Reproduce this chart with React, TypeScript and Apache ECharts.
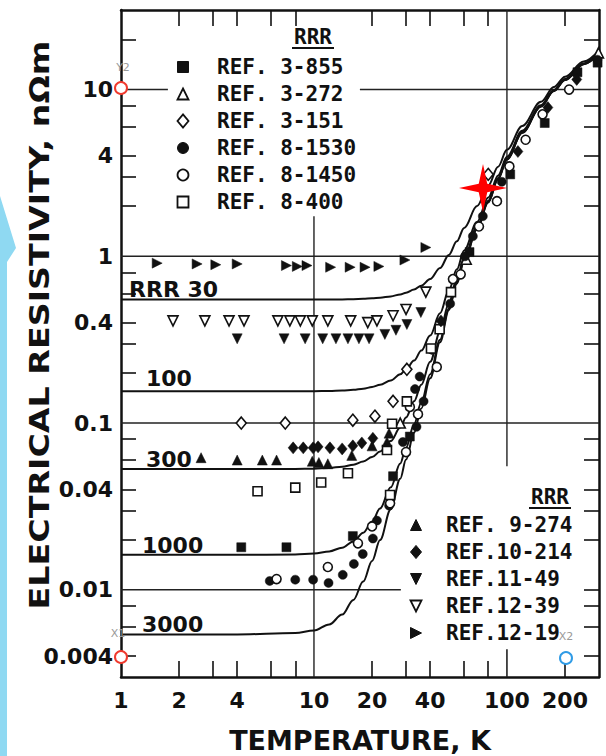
import React, { useEffect, useRef } from 'react';
import * as echarts from 'echarts';

// Axis ticks and labels (log-log scales)
const X_LABELS = [1, 2, 4, 10, 20, 40, 100, 200];
const X_MINOR_TICKS = [2, 3, 4, 6, 8, 20, 30, 40, 60, 80, 200];
const Y_LABELS = [0.004, 0.01, 0.04, 0.1, 0.4, 1, 4, 10];
const Y_MINOR_TICKS = [0.004, 0.006, 0.008, 0.02, 0.03, 0.04, 0.06, 0.08, 0.2, 0.3, 0.4, 0.6, 0.8, 2, 3, 4, 6, 8, 20];
const Y_RIGHT_TICKS = [0.004, 0.006, 0.008, 0.01, 0.02, 0.03, 0.04, 0.06, 0.08, 0.2, 0.3, 0.4, 0.6, 0.8, 2, 3, 4, 6, 8, 20];

// Temperature grid (K) of the RRR curves
const T_GRID = [1, 4, 8, 10, 12, 14, 16, 18, 20, 22, 25, 28, 30, 33, 36, 40, 45, 50, 55, 60, 70, 80, 90, 100, 120, 150, 175, 200, 250, 300];
// Resistivity (nΩm) of each RRR curve on T_GRID
const RHO_RRR30 = [0.55, 0.55, 0.55, 0.5503, 0.5508, 0.5517, 0.5533, 0.5558, 0.5595, 0.5645, 0.575, 0.591, 0.605, 0.632, 0.667, 0.73, 0.85, 1.02, 1.23, 1.48, 2.0, 2.65, 3.45, 4.35, 6.05, 8.45, 10.35, 11.95, 14.75, 17.15];
const RHO_RRR100 = [0.155, 0.155, 0.155, 0.1553, 0.1558, 0.1567, 0.1583, 0.1608, 0.1645, 0.1695, 0.18, 0.196, 0.21, 0.237, 0.272, 0.335, 0.455, 0.625, 0.835, 1.085, 1.605, 2.255, 3.055, 3.955, 5.655, 8.055, 9.955, 11.555, 14.355, 16.755];
const RHO_RRR300 = [0.053, 0.053, 0.0531, 0.0533, 0.0538, 0.0547, 0.0563, 0.0588, 0.0625, 0.0675, 0.078, 0.094, 0.108, 0.135, 0.17, 0.233, 0.353, 0.523, 0.733, 0.983, 1.503, 2.153, 2.953, 3.853, 5.553, 7.953, 9.853, 11.453, 14.253, 16.653];
const RHO_RRR1000 = [0.0162, 0.0162, 0.0163, 0.0165, 0.017, 0.0179, 0.0195, 0.022, 0.0257, 0.0307, 0.0412, 0.0572, 0.0712, 0.0982, 0.1332, 0.1962, 0.3162, 0.4862, 0.6962, 0.9462, 1.466, 2.116, 2.916, 3.816, 5.516, 7.916, 9.816, 11.416, 14.216, 16.616];
const RHO_RRR3000 = [0.0054, 0.0054, 0.0055, 0.0057, 0.0062, 0.0071, 0.0087, 0.0112, 0.0149, 0.0199, 0.0304, 0.0464, 0.0604, 0.0874, 0.1224, 0.1854, 0.3054, 0.4754, 0.6854, 0.9354, 1.455, 2.105, 2.905, 3.805, 5.505, 7.905, 9.805, 11.405, 14.205, 16.605];

// Measured points [T (K), resistivity (nΩm)]
const REF_3_855 = [[4.2, 0.018], [7.2, 0.018], [15.9, 0.021], [25.7, 0.048], [31.4, 0.083], [64, 1.06], [104, 3.1], [157, 6.3], [232, 12.7], [295, 14.5]];
const REF_3_272 = [[28, 0.1], [61.5, 0.96], [298, 16.6]];
const REF_3_151 = [[4.2, 0.1], [7.1, 0.1], [15.9, 0.104], [20.7, 0.11], [25.7, 0.135], [30.3, 0.21], [80, 3.1]];
const REF_8_1530 = [[5.9, 0.0113], [8.0, 0.0115], [9.9, 0.0115], [11.9, 0.011], [14.1, 0.0123], [16.1, 0.0143], [17.9, 0.0164], [20.2, 0.0203], [21.2, 0.026], [24.5, 0.032], [28.9, 0.077], [33.4, 0.16], [34, 0.095], [35.3, 0.19], [37, 0.135], [50.8, 0.52], [60.6, 1.0], [66.6, 1.32], [75, 1.74], [94, 2.8], [294, 15.1]];
const REF_8_1450 = [[6.4, 0.0116], [11.8, 0.0137], [16.9, 0.019], [20, 0.024], [24.8, 0.033], [30, 0.067], [31.4, 0.125], [34.6, 0.113], [40.8, 0.277], [43.3, 0.217], [52.5, 0.73], [57.6, 0.78], [71.6, 1.51], [88.8, 2.14], [103, 3.46], [125, 5.0], [153, 7.1], [210, 10]];
const REF_8_400 = [[5.1, 0.039], [8.0, 0.041], [10.9, 0.044], [15, 0.05], [23.9, 0.069], [24.8, 0.037], [25.4, 0.099], [30.3, 0.135], [40.4, 0.28], [44.8, 0.365], [51.3, 0.61]];
const REF_9_274 = [[2.6, 0.062], [4.0, 0.06], [5.4, 0.06], [6.4, 0.06], [9.8, 0.059], [10.6, 0.058], [11.8, 0.057], [15.7, 0.064], [20, 0.073], [23.9, 0.077], [24.5, 0.087]];
const REF_10_214 = [[7.8, 0.071], [8.8, 0.071], [9.9, 0.071], [10.5, 0.072], [12.1, 0.071], [14, 0.07], [15.9, 0.073], [17.7, 0.076], [20.2, 0.081], [45.5, 0.41], [114, 4.25], [163, 7.8], [230, 11.5]];
const REF_11_49 = [[4.0, 0.32], [7.0, 0.32], [9.0, 0.32], [11.1, 0.32], [13, 0.32], [15, 0.32], [17.1, 0.32], [19.3, 0.32], [23.3, 0.34], [26.6, 0.36], [30.3, 0.39], [35.8, 0.46]];
const REF_12_39 = [[1.86, 0.41], [2.72, 0.41], [3.63, 0.41], [4.34, 0.41], [6.5, 0.41], [7.5, 0.41], [8.5, 0.41], [9.8, 0.41], [11.8, 0.41], [15.5, 0.41], [19, 0.4], [21.2, 0.41], [25.7, 0.44], [30, 0.48], [38, 0.61]];
const REF_12_19 = [[1.54, 0.91], [2.48, 0.9], [3.1, 0.89], [4.0, 0.9], [7.2, 0.88], [8.2, 0.87], [9.2, 0.88], [12.2, 0.86], [15.4, 0.86], [18.4, 0.86], [21.7, 0.87], [29.6, 0.95], [38, 1.13]];

const INK = '#111';
const FONT = '"DejaVu Sans", sans-serif';
const MONO = '"DejaVu Sans Mono", monospace';

type Kind = 'square' | 'up' | 'diamond' | 'circle' | 'down' | 'right';

const REFS: { name: string; kind: Kind; filled: boolean; data: number[][] }[] = [
  { name: 'REF. 3-855', kind: 'square', filled: true, data: REF_3_855 },
  { name: 'REF. 3-272', kind: 'up', filled: false, data: REF_3_272 },
  { name: 'REF. 3-151', kind: 'diamond', filled: false, data: REF_3_151 },
  { name: 'REF. 8-1530', kind: 'circle', filled: true, data: REF_8_1530 },
  { name: 'REF. 8-1450', kind: 'circle', filled: false, data: REF_8_1450 },
  { name: 'REF. 8-400', kind: 'square', filled: false, data: REF_8_400 },
  { name: 'REF. 9-274', kind: 'up', filled: true, data: REF_9_274 },
  { name: 'REF.10-214', kind: 'diamond', filled: true, data: REF_10_214 },
  { name: 'REF.11-49', kind: 'down', filled: true, data: REF_11_49 },
  { name: 'REF.12-39', kind: 'down', filled: false, data: REF_12_39 },
  { name: 'REF.12-19', kind: 'right', filled: true, data: REF_12_19 },
];

const CURVES = [
  { name: 'RRR 30', data: RHO_RRR30 },
  { name: 'RRR 100', data: RHO_RRR100 },
  { name: 'RRR 300', data: RHO_RRR300 },
  { name: 'RRR 1000', data: RHO_RRR1000 },
  { name: 'RRR 3000', data: RHO_RRR3000 },
];

const SYMBOLS: Record<Kind, string> = {
  square: 'rect',
  up: 'triangle',
  diamond: 'diamond',
  circle: 'circle',
  down: 'path://M0,0L10,0L5,10Z',
  right: 'path://M0,0L10,5L0,10Z',
};

const SIZES: Record<Kind, number | number[]> = {
  square: 9,
  up: 10,
  diamond: [10, 12],
  circle: 9,
  down: 10,
  right: 10,
};

function markerStyle(filled: boolean) {
  return filled
    ? { fill: INK, stroke: INK, lineWidth: 1 }
    : { fill: '#fff', stroke: INK, lineWidth: 1.8 };
}

// Legend marker drawn as a plain graphic shape
function legendMarker(kind: Kind, filled: boolean, cx: number, cy: number, s: number): any {
  const h = s / 2;
  const style = markerStyle(filled);
  if (kind === 'square') return { type: 'rect', shape: { x: cx - h, y: cy - h, width: s, height: s }, style };
  if (kind === 'circle') return { type: 'circle', shape: { cx, cy, r: h }, style };
  let pts: number[][] = [];
  if (kind === 'up') pts = [[cx, cy - h], [cx + h, cy + h], [cx - h, cy + h]];
  if (kind === 'down') pts = [[cx - h, cy - h], [cx + h, cy - h], [cx, cy + h]];
  if (kind === 'right') pts = [[cx - h, cy - h], [cx + h, cy], [cx - h, cy + h]];
  if (kind === 'diamond') pts = [[cx, cy - h * 1.2], [cx + h, cy], [cx, cy + h * 1.2], [cx - h, cy]];
  return { type: 'polygon', shape: { points: pts }, style };
}

function legendBlock(items: typeof REFS, markerX: number, textX: number, y0: number, gap: number, headerX: number, headerY: number): any[] {
  const out: any[] = [];
  out.push({ type: 'text', x: headerX, y: headerY, style: { text: 'RRR', font: `bold 21px ${MONO}`, fill: INK, textAlign: 'center', textVerticalAlign: 'middle' } });
  out.push({ type: 'line', shape: { x1: headerX - 21, y1: headerY + 11, x2: headerX + 21, y2: headerY + 11 }, style: { stroke: INK, lineWidth: 2 } });
  items.forEach((it, i) => {
    const y = y0 + i * gap;
    out.push(legendMarker(it.kind, it.filled, markerX, y, 11));
    out.push({ type: 'text', x: textX, y, style: { text: it.name, font: `bold 21px ${MONO}`, fill: INK, textAlign: 'left', textVerticalAlign: 'middle' } });
  });
  return out;
}

function starPoints(cx: number, cy: number, ro: number, ri: number): number[][] {
  const pts: number[][] = [];
  for (let i = 0; i < 8; i++) {
    const a = (Math.PI / 4) * i - Math.PI / 2;
    const r = i % 2 === 0 ? ro : ri;
    pts.push([cx + r * Math.cos(a), cy + r * Math.sin(a)]);
  }
  return pts;
}

function segment(points: number[][], width = 1.4): any {
  return {
    type: 'line',
    data: points,
    symbol: 'none',
    silent: true,
    z: 1,
    lineStyle: { color: '#222', width },
  };
}

const tickLine = { lineStyle: { color: INK, width: 1.6 } };
const LABEL_FONT = `bold 22px ${FONT}`;

function buildOption(): any {
  const series: any[] = [];
  // partial grid lines
  series.push(segment([[1, 10], [1.75, 10]]));
  series.push(segment([[17.3, 10], [300, 10]]));
  series.push(segment([[1, 1], [300, 1]]));
  series.push(segment([[1, 0.1], [300, 0.1]]));
  series.push(segment([[1, 0.01], [28.2, 0.01]]));
  series.push(segment([[10, 0.003], [10, 1.74]]));
  series.push(segment([[100, 30], [100, 0.055]]));
  series.push(segment([[100, 0.003], [100, 0.0044]], 1.6));

  CURVES.forEach((c) => {
    series.push({
      type: 'line',
      name: c.name,
      data: T_GRID.map((t, i) => [t, c.data[i]]),
      symbol: 'none',
      smooth: 0.35,
      smoothMonotone: 'x',
      silent: true,
      z: 2,
      lineStyle: { color: INK, width: 2 },
    });
  });

  REFS.forEach((r) => {
    series.push({
      type: 'scatter',
      name: r.name,
      data: r.data,
      symbol: SYMBOLS[r.kind],
      symbolSize: SIZES[r.kind],
      z: 3,
      itemStyle: r.filled
        ? { color: INK, borderColor: INK, borderWidth: 0.5, opacity: 1 }
        : { color: '#fff', borderColor: INK, borderWidth: 1.6, opacity: 1 },
    });
  });

  const curveLabel = (text: string, x: number, y: number) => ({
    type: 'text', x, y, style: { text, font: LABEL_FONT, fill: INK, textVerticalAlign: 'middle' },
  });

  const graphic: any[] = [
    // light blue band on the left edge
    {
      type: 'polygon',
      z: 0,
      shape: { points: [[0, 196], [16, 248], [7, 262], [7, 756], [0, 756]] },
      style: { fill: '#8fd9f2' },
    },
    // axis titles
    {
      type: 'text',
      x: 40,
      y: 325,
      rotation: Math.PI / 2,
      scaleX: 1.28,
      style: { text: 'ELECTRICAL RESISTIVITY, nΩm', font: `bold 26px ${FONT}`, fill: INK, textAlign: 'center', textVerticalAlign: 'middle' },
    },
    {
      type: 'text',
      x: 360,
      y: 740,
      style: { text: 'TEMPERATURE, K', font: `bold 27px ${FONT}`, fill: INK, textAlign: 'center', textVerticalAlign: 'middle' },
    },
    // curve labels
    curveLabel('RRR 30', 129, 289),
    curveLabel('100', 146, 378),
    curveLabel('300', 146, 459),
    curveLabel('1000', 142, 545),
    curveLabel('3000', 142, 624),
    ...legendBlock(REFS.slice(0, 6), 183, 217, 67, 27, 313, 37),
    ...legendBlock(REFS.slice(6), 416, 446, 525, 27, 550, 497),
    // reference markers
    { type: 'text', z: 50, x: 123, y: 67, style: { text: 'Y2', font: `11px ${FONT}`, fill: '#9a9a9a', textAlign: 'center', textVerticalAlign: 'middle' } },
    { type: 'circle', z: 50, shape: { cx: 121, cy: 88, r: 6 }, style: { fill: '#fff', stroke: '#f03a2e', lineWidth: 2 } },
    { type: 'text', z: 50, x: 118, y: 633, style: { text: 'X1', font: `11px ${FONT}`, fill: '#9a9a9a', textAlign: 'center', textVerticalAlign: 'middle' } },
    { type: 'circle', z: 50, shape: { cx: 121, cy: 657, r: 6 }, style: { fill: '#fff', stroke: '#f03a2e', lineWidth: 2 } },
    { type: 'text', z: 50, x: 566, y: 636, style: { text: 'X2', font: `11px ${FONT}`, fill: '#9a9a9a', textAlign: 'center', textVerticalAlign: 'middle' } },
    { type: 'circle', z: 50, shape: { cx: 566, cy: 658, r: 6 }, style: { fill: '#fff', stroke: '#2f9be6', lineWidth: 2 } },
    { type: 'polygon', z: 50, shape: { points: starPoints(483, 188, 24, 6) }, style: { fill: '#ff0000' } },
  ];

  const axisLabelStyle = { fontFamily: FONT, fontWeight: 'bold', fontSize: 22, color: INK };

  return {
    animation: false,
    backgroundColor: '#fff',
    grid: { left: 121, right: 7, top: 10, bottom: 79, containLabel: false, outerBoundsMode: 'none' },
    xAxis: [
      {
        type: 'log',
        logBase: 10,
        min: 1,
        max: 300,
        position: 'bottom',
        axisLine: { show: true, onZero: false, lineStyle: { color: INK, width: 2.5 } },
        axisTick: { show: true, inside: true, length: 16, customValues: X_MINOR_TICKS, ...tickLine },
        axisLabel: { customValues: X_LABELS, formatter: (v: number) => String(v), margin: 12, ...axisLabelStyle },
        splitLine: { show: false },
        minorTick: { show: false },
      },
      {
        type: 'log',
        logBase: 10,
        min: 1,
        max: 300,
        position: 'top',
        axisLine: { show: true, onZero: false, lineStyle: { color: INK, width: 2.5 } },
        axisTick: { show: true, inside: true, length: 16, customValues: X_MINOR_TICKS, ...tickLine },
        axisLabel: { show: false },
        splitLine: { show: false },
      },
    ],
    yAxis: [
      {
        type: 'log',
        logBase: 10,
        min: 0.003,
        max: 30,
        position: 'left',
        axisLine: { show: true, onZero: false, lineStyle: { color: INK, width: 2.5 } },
        axisTick: { show: true, inside: true, length: 15, customValues: Y_MINOR_TICKS, ...tickLine },
        axisLabel: { customValues: Y_LABELS, formatter: (v: number) => String(v), margin: 8, ...axisLabelStyle },
        splitLine: { show: false },
      },
      {
        type: 'log',
        logBase: 10,
        min: 0.003,
        max: 30,
        position: 'right',
        axisLine: { show: true, onZero: false, lineStyle: { color: INK, width: 2.5 } },
        axisTick: { show: true, inside: true, length: 15, customValues: Y_RIGHT_TICKS, ...tickLine },
        axisLabel: { show: false },
        splitLine: { show: false },
      },
    ],
    series,
    graphic,
  };
}

export default function App() {
  const ref = useRef<HTMLDivElement>(null);
  useEffect(() => {
    if (!ref.current) return;
    const chart = echarts.init(ref.current, undefined, { renderer: 'svg' });
    chart.setOption(buildOption());
    return () => chart.dispose();
  }, []);
  return <div ref={ref} style={{ position: 'absolute', left: 0, top: 0, width: 606, height: 756, background: '#fff' }} />;
}
